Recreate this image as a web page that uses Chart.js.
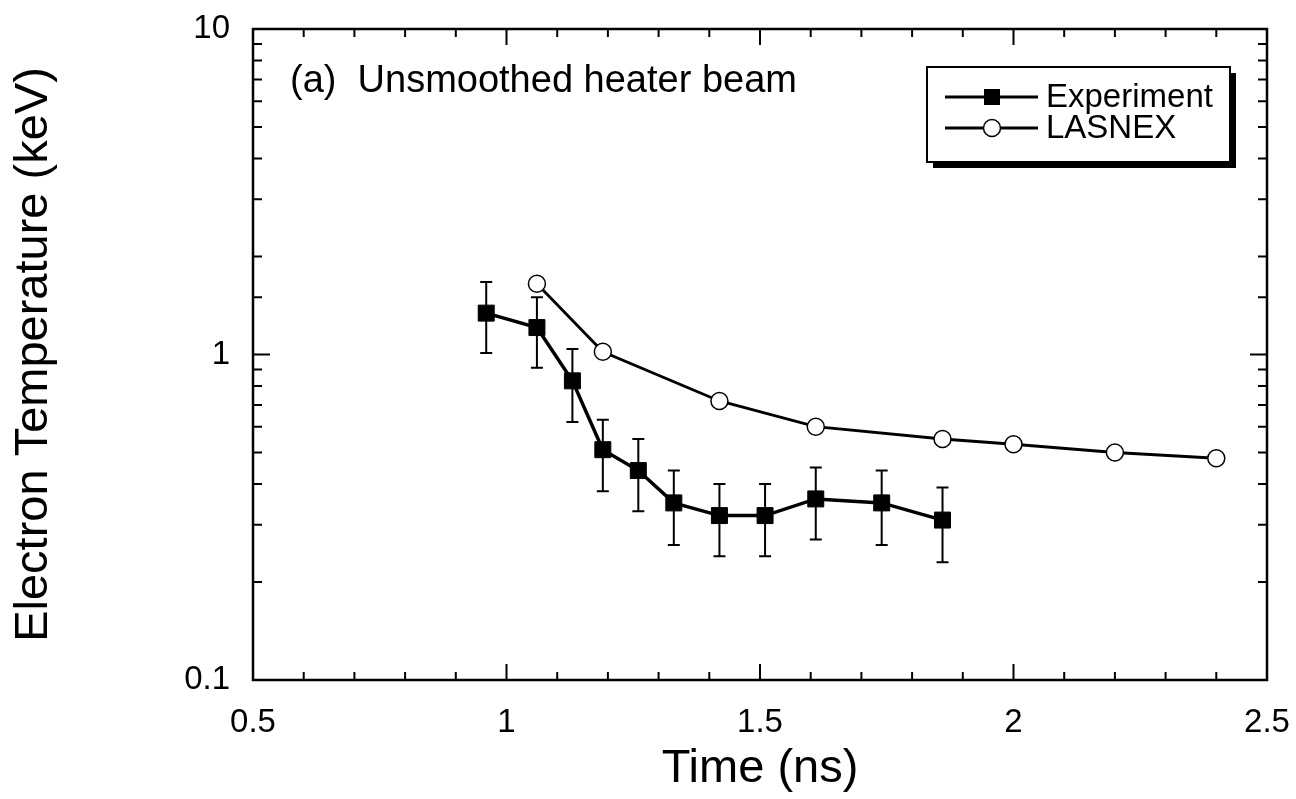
<!DOCTYPE html>
<html>
<head>
<meta charset="utf-8">
<title>Electron Temperature vs Time</title>
<script src="https://cdn.jsdelivr.net/npm/chart.js@4/dist/chart.umd.min.js"></script>
<style>
  body { margin: 0; background: #fff; }
  canvas { display: block; }
</style>
</head>
<body>
<canvas id="chartContainer" width="1296" height="799"></canvas>
<script>
// Experiment (filled squares, with error bars)
const expTime = [0.96, 1.06, 1.13, 1.19, 1.26, 1.33, 1.42, 1.51, 1.61, 1.74, 1.86];
const expTemp = [1.34, 1.21, 0.83, 0.51, 0.44, 0.35, 0.32, 0.32, 0.36, 0.35, 0.31];
const expHigh = [1.67, 1.50, 1.04, 0.63, 0.55, 0.44, 0.40, 0.40, 0.45, 0.44, 0.39];
const expLow  = [1.01, 0.91, 0.62, 0.38, 0.33, 0.26, 0.24, 0.24, 0.27, 0.26, 0.23];

// LASNEX simulation (open circles)
const lasTime = [1.06, 1.19, 1.42, 1.61, 1.86, 2.0, 2.2, 2.4];
const lasTemp = [1.65, 1.02, 0.72, 0.60, 0.55, 0.53, 0.50, 0.48];

const seriesNames = ["Experiment", "LASNEX"];
const yLabels = [0.1, 1, 10];
const xLabels = [0.5, 1, 1.5, 2, 2.5];
const panelTitle = "(a)  Unsmoothed heater beam";

const FONT = "'Liberation Sans', Arial, Helvetica, sans-serif";

function toPoints(xs, ys) {
    return xs.map((x, i) => ({ x: x, y: ys[i] }));
}

// keep the plot box where the reference has it
function noEdgePadding(scale) {
    scale.paddingTop = 0;
    scale.paddingBottom = 0;
    scale.paddingLeft = 0;
    scale.paddingRight = 0;
}

// error bars, drawn under the markers
const errorBars = {
    id: "errorBars",
    beforeDatasetsDraw(chart) {
        const ctx = chart.ctx;
        const xs = chart.scales.x, ys = chart.scales.y;
        ctx.save();
        ctx.strokeStyle = "#000";
        ctx.lineWidth = 2;
        for (let i = 0; i < expTime.length; i++) {
            const px = xs.getPixelForValue(expTime[i]);
            const top = ys.getPixelForValue(expHigh[i]);
            const bot = ys.getPixelForValue(expLow[i]);
            ctx.beginPath();
            ctx.moveTo(px, top); ctx.lineTo(px, bot);
            ctx.moveTo(px - 6, top); ctx.lineTo(px + 6, top);
            ctx.moveTo(px - 6, bot); ctx.lineTo(px + 6, bot);
            ctx.stroke();
        }
        ctx.restore();
    }
};

// frame, inward ticks, panel label and legend box
const frameAndLegend = {
    id: "frameAndLegend",
    afterDraw(chart) {
        const ctx = chart.ctx;
        const a = chart.chartArea;
        const xs = chart.scales.x, ys = chart.scales.y;
        ctx.save();
        ctx.strokeStyle = "#000";
        ctx.lineWidth = 2.5;
        ctx.strokeRect(a.left, a.top, a.right - a.left, a.bottom - a.top);

        ctx.lineWidth = 2;
        ctx.beginPath();
        xs.ticks.forEach(t => {
            const px = xs.getPixelForValue(t.value);
            const major = Math.abs(t.value * 2 - Math.round(t.value * 2)) < 1e-6;
            const len = major ? 16 : 8;
            ctx.moveTo(px, a.bottom); ctx.lineTo(px, a.bottom - len);
            ctx.moveTo(px, a.top); ctx.lineTo(px, a.top + len);
        });
        ys.ticks.forEach(t => {
            const py = ys.getPixelForValue(t.value);
            const lg = Math.log10(t.value);
            const major = Math.abs(lg - Math.round(lg)) < 1e-6;
            const len = major ? 17 : 9;
            ctx.moveTo(a.left, py); ctx.lineTo(a.left + len, py);
            ctx.moveTo(a.right, py); ctx.lineTo(a.right - len, py);
        });
        ctx.stroke();

        // panel label
        ctx.fillStyle = "#000";
        ctx.font = "38px " + FONT;
        ctx.textBaseline = "alphabetic";
        ctx.textAlign = "left";
        ctx.fillText(panelTitle, 290, 92);

        // legend box with drop shadow
        const bx = 927, by = 67, bw = 303, bh = 95;
        ctx.fillStyle = "#000";
        ctx.fillRect(bx + 6, by + 6, bw, bh);
        ctx.fillStyle = "#fff";
        ctx.fillRect(bx, by, bw, bh);
        ctx.lineWidth = 2;
        ctx.strokeRect(bx, by, bw, bh);

        const rows = [97, 128];
        rows.forEach((ry, k) => {
            ctx.strokeStyle = "#000";
            ctx.lineWidth = 3;
            ctx.beginPath();
            ctx.moveTo(945, ry); ctx.lineTo(1038, ry);
            ctx.stroke();
            if (k === 0) {
                ctx.fillStyle = "#000";
                ctx.fillRect(992 - 8, ry - 8, 16, 16);
            } else {
                ctx.fillStyle = "#fff";
                ctx.lineWidth = 1.5;
                ctx.beginPath();
                ctx.arc(992, ry, 8.5, 0, Math.PI * 2);
                ctx.fill();
                ctx.stroke();
            }
            ctx.fillStyle = "#000";
            ctx.font = "33px " + FONT;
            ctx.textBaseline = "middle";
            ctx.fillText(seriesNames[k], 1046, ry + 1);
        });
        ctx.restore();
    }
};

const chart = new Chart("chartContainer", {
    type: "line",
    data: {
        datasets: [
            {
                label: seriesNames[0],
                data: toPoints(expTime, expTemp),
                borderColor: "#000",
                backgroundColor: "#000",
                borderWidth: 3.5,
                pointStyle: "rect",
                pointRadius: 11.3,
                pointBorderWidth: 1,
                pointBackgroundColor: "#000",
                tension: 0
            },
            {
                label: seriesNames[1],
                data: toPoints(lasTime, lasTemp),
                borderColor: "#000",
                backgroundColor: "#fff",
                borderWidth: 2.8,
                pointStyle: "circle",
                pointRadius: 8.5,
                pointBorderWidth: 1.5,
                pointBackgroundColor: "#fff",
                tension: 0
            }
        ]
    },
    options: {
        responsive: false,
        animation: false,
        layout: { padding: { left: 0, right: 29, top: 29, bottom: 0 } },
        plugins: {
            legend: { display: false },
            tooltip: { enabled: false }
        },
        scales: {
            x: {
                type: "linear",
                min: 0.5,
                max: 2.5,
                grid: { display: false },
                border: { display: false },
                ticks: {
                    stepSize: 0.1,
                    autoSkip: false,
                    maxRotation: 0,
                    padding: 15,
                    color: "#000",
                    font: { family: FONT, size: 33 },
                    callback: function (v) {
                        const r = Math.round(v * 10) / 10;
                        return xLabels.some(l => Math.abs(l - r) < 1e-6) ? String(r) : "";
                    }
                },
                title: {
                    display: true,
                    text: "Time (ns)",
                    color: "#000",
                    font: { family: FONT, size: 47 },
                    padding: { top: 0, bottom: 2 }
                },
                afterFit: function (scale) {
                    scale.height = 119;
                    noEdgePadding(scale);
                }
            },
            y: {
                type: "logarithmic",
                min: 0.1,
                max: 10,
                grid: { display: false },
                border: { display: false },
                ticks: {
                    autoSkip: false,
                    padding: 15,
                    color: "#000",
                    font: { family: FONT, size: 33 },
                    callback: function (v) {
                        return yLabels.some(l => Math.abs(l - v) < 1e-9) ? String(v) : "";
                    }
                },
                title: {
                    display: true,
                    text: "Electron Temperature (keV)",
                    color: "#000",
                    font: { family: FONT, size: 47 },
                    padding: { top: 6, bottom: 0 }
                },
                afterFit: function (scale) {
                    scale.width = 253;
                    noEdgePadding(scale);
                }
            }
        }
    },
    plugins: [errorBars, frameAndLegend]
});
</script>
</body>
</html>
